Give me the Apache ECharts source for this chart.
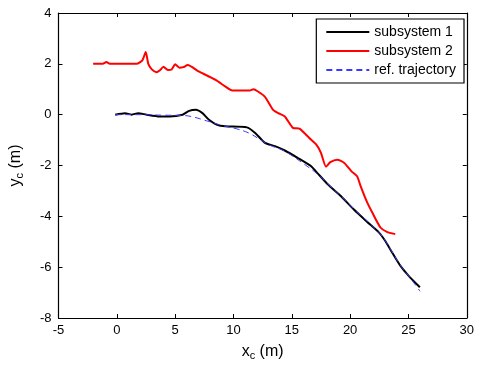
<!DOCTYPE html>
<html>
<head>
<meta charset="utf-8">
<script src="https://cdn.jsdelivr.net/npm/echarts@6/dist/echarts.min.js"></script>
<style>
  html, body { margin: 0; padding: 0; background: #fff; }
  #main { width: 477px; height: 366px; }
</style>
</head>
<body>
<div id="main"></div>
<script>
// subsystem 1 (black)
var sub1 = [
  [-0.14, 0], [0.7, 0.06], [1.27, 0], [1.83, 0.06], [2.54, 0], [3.67, -0.07], [4.52, -0.07],
  [5.64, 0], [6.2, 0.15], [6.78, 0.19], [7.34, 0.06], [7.9, -0.2], [8.6, -0.4], [9.3, -0.46],
  [11.15, -0.5], [11.86, -0.72], [12.7, -1.11], [13.56, -1.24], [14.4, -1.41], [15.5, -1.7],
  [16.66, -2.03], [17.24, -2.32], [18.08, -2.74], [19.2, -3.2], [20.3, -3.72], [21.47, -4.22],
  [22.46, -4.63], [23.0, -4.96], [23.6, -5.42], [24.3, -5.94], [25.0, -6.33], [25.98, -6.79]
];
// subsystem 2 (red)
var sub2 = [
  [-2.03, 2.0], [-1.2, 2.0], [-0.9, 2.07], [-0.6, 2.0], [1.7, 2.0], [2.2, 2.15], [2.48, 2.47],
  [2.7, 2.0], [3.0, 1.78], [3.39, 1.67], [3.7, 1.75], [4.0, 1.89], [4.37, 1.76], [4.7, 1.78],
  [5.0, 1.98], [5.36, 1.85], [5.7, 1.87], [6.07, 1.95], [7.06, 1.69], [8.47, 1.37],
  [9.32, 1.1], [9.9, 0.95], [11.4, 0.95], [11.7, 1.0], [12.1, 0.91], [12.7, 0.7],
  [13.4, 0.19], [13.84, 0.06], [14.4, -0.07], [15.1, -0.52], [15.66, -0.55], [16.5, -0.92],
  [17.1, -1.18], [17.5, -1.5], [17.93, -2.05], [18.3, -1.87], [18.9, -1.77], [19.5, -1.9],
  [20.1, -2.22], [20.6, -2.42], [20.9, -2.81], [21.47, -3.46], [21.9, -3.85], [22.6, -4.44],
  [23.15, -4.61], [23.87, -4.7]
];
// reference trajectory (blue dashed)
var refTraj = [
  [-0.14, 0], [2, 0], [4, -0.02], [5.5, -0.03], [6.36, -0.07], [7.9, -0.27], [9, -0.42],
  [10.3, -0.56], [11.3, -0.72], [12.3, -0.98], [13, -1.18], [14.4, -1.44], [16.1, -1.96],
  [17.24, -2.35], [18.08, -2.72], [19.2, -3.2], [20.3, -3.7], [21.5, -4.2], [22.5, -4.65],
  [23.0, -4.95], [23.6, -5.4], [24.3, -5.92], [25, -6.33], [26, -6.95]
];
var xTicks = { min: -5, max: 30, step: 5 };
var yTicks = { min: -8, max: 4, step: 2 };

var chart = echarts.init(document.getElementById('main'));
var font = 'Liberation Sans, Arial, sans-serif';

function axisBase(show) {
  return {
    axisLine: { show: true, onZero: false, lineStyle: { color: '#000', width: 1.2 } },
    axisTick: { show: true, inside: true, length: 4, lineStyle: { color: '#000' } },
    axisLabel: { show: show, color: '#000', fontSize: 13, fontFamily: font },
    splitLine: { show: false }
  };
}

var xBottom = Object.assign(axisBase(true), {
  type: 'value', min: xTicks.min, max: xTicks.max, interval: xTicks.step,
  position: 'bottom',
  name: 'x{sub|c} (m)', nameLocation: 'middle', nameGap: 24,
  nameTextStyle: {
    color: '#000', fontSize: 16, fontFamily: font,
    rich: { sub: { fontSize: 11, verticalAlign: 'bottom', padding: [8, 0, 0, 0], fontFamily: font } }
  }
});
xBottom.axisLabel.margin = 6;
var xTop = Object.assign(axisBase(false), {
  type: 'value', min: xTicks.min, max: xTicks.max, interval: xTicks.step, position: 'top'
});
var yLeft = Object.assign(axisBase(true), {
  type: 'value', min: yTicks.min, max: yTicks.max, interval: yTicks.step,
  position: 'left',
  name: 'y{sub|c} (m)', nameLocation: 'middle', nameGap: 33, nameRotate: 90,
  nameTextStyle: {
    color: '#000', fontSize: 16, fontFamily: font,
    rich: { sub: { fontSize: 11, verticalAlign: 'bottom', padding: [8, 0, 0, 0], fontFamily: font } }
  }
});
yLeft.axisLabel.margin = 7;
var yRight = Object.assign(axisBase(false), {
  type: 'value', min: yTicks.min, max: yTicks.max, interval: yTicks.step, position: 'right'
});

chart.setOption({
  animation: false,
  backgroundColor: '#fff',
  grid: { left: 58, right: 6, top: 13, bottom: 47, containLabel: false },
  xAxis: [xBottom, xTop],
  yAxis: [yLeft, yRight],
  legend: {
    right: 13, top: 19,
    orient: 'vertical',
    itemWidth: 43, itemHeight: 10, itemGap: 5,
    padding: [6, 8, 6, 9],
    borderColor: '#000', borderWidth: 1.2, borderRadius: 0,
    backgroundColor: '#fff',
    itemStyle: { color: 'transparent', borderWidth: 0, opacity: 0 },
    textStyle: { color: '#000', fontSize: 14, fontFamily: font },
    data: ['subsystem 1', 'subsystem 2', 'ref. trajectory']
  },
  series: [
    {
      name: 'subsystem 1', type: 'line', data: sub1, symbol: 'none', smooth: 0.2,
      lineStyle: { color: '#000', width: 2 }, itemStyle: { color: '#000' }
    },
    {
      name: 'subsystem 2', type: 'line', data: sub2, symbol: 'none', smooth: 0.2,
      lineStyle: { color: '#ff0000', width: 2 }, itemStyle: { color: '#ff0000' }
    },
    {
      name: 'ref. trajectory', type: 'line', data: refTraj, symbol: 'none', smooth: 0.4,
      lineStyle: { color: '#3a3aff', width: 1, type: [6, 4] }, itemStyle: { color: '#3a3aff' }
    }
  ]
});
</script>
</body>
</html>
